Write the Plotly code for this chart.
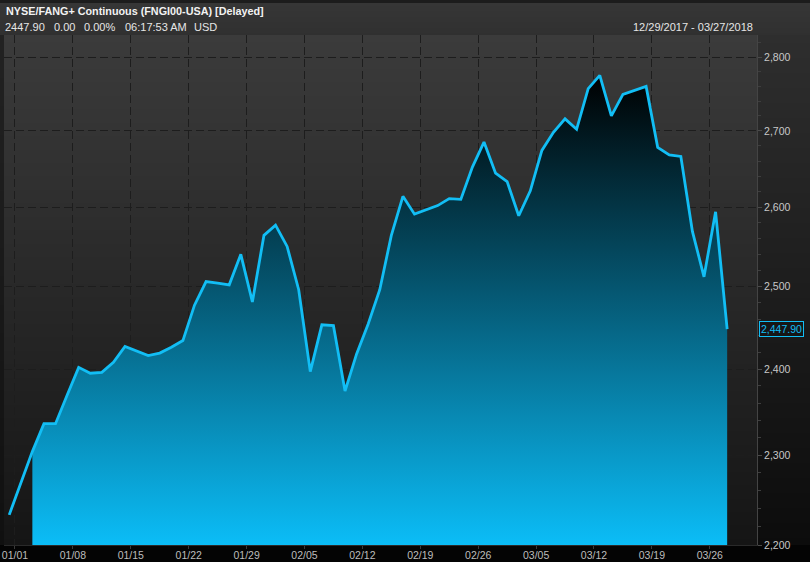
import base64
import struct
import zlib

import numpy as np
import plotly.graph_objects as go

# ---------------- data ----------------
dates = [
    "2017-12-29", "2018-01-02", "2018-01-03", "2018-01-04", "2018-01-05",
    "2018-01-08", "2018-01-09", "2018-01-10", "2018-01-11", "2018-01-12",
    "2018-01-16", "2018-01-17", "2018-01-18", "2018-01-19",
    "2018-01-22", "2018-01-23", "2018-01-24", "2018-01-25", "2018-01-26",
    "2018-01-29", "2018-01-30", "2018-01-31", "2018-02-01", "2018-02-02",
    "2018-02-05", "2018-02-06", "2018-02-07", "2018-02-08", "2018-02-09",
    "2018-02-12", "2018-02-13", "2018-02-14", "2018-02-15", "2018-02-16",
    "2018-02-20", "2018-02-21", "2018-02-22", "2018-02-23",
    "2018-02-26", "2018-02-27", "2018-02-28", "2018-03-01", "2018-03-02",
    "2018-03-05", "2018-03-06", "2018-03-07", "2018-03-08", "2018-03-09",
    "2018-03-12", "2018-03-13", "2018-03-14", "2018-03-15", "2018-03-16",
    "2018-03-19", "2018-03-20", "2018-03-21", "2018-03-22", "2018-03-23",
    "2018-03-26", "2018-03-27",
]
closes = [
    2233, 2304, 2336, 2336, 2369,
    2402, 2395, 2396, 2408, 2427,
    2416, 2419, 2426, 2434,
    2477, 2506, 2504, 2502, 2540,
    2481, 2564, 2577, 2550, 2496,
    2397, 2453, 2452, 2374, 2418,
    2454, 2496, 2564, 2614, 2591,
    2602, 2611, 2610, 2652,
    2685, 2644, 2633, 2589, 2621,
    2674, 2698, 2716, 2702, 2757,
    2775, 2720, 2749, 2754, 2760,
    2678, 2668, 2666, 2569, 2512,
    2594, 2447.90,
]
week_starts = [
    "2018-01-01", "2018-01-08", "2018-01-15", "2018-01-22", "2018-01-29",
    "2018-02-05", "2018-02-12", "2018-02-19", "2018-02-26", "2018-03-05",
    "2018-03-12", "2018-03-19", "2018-03-26",
]
y_major = [2200, 2300, 2400, 2500, 2600, 2700, 2800]
y_minor = [v for v in range(2200, 2840, 20) if v % 100 != 0]

last_value = closes[-1]
title_text = "NYSE/FANG+ Continuous (FNGI00-USA) [Delayed]"
quote_parts = ["2447.90", "0.00", "0.00%", "06:17:53 AM", "USD"]
range_text = "12/29/2017 - 03/27/2018"

# ---------------- geometry ----------------
W, H = 810, 562
PL, PR, PT, PB = 4, 757, 35, 545   # plot area in pixels

origin = dates[0]
x_idx = np.busday_count(origin, np.array(dates, dtype="datetime64[D]")).astype(float)
tick_pos = np.busday_count(origin, np.array(week_starts, dtype="datetime64[D]")) - 0.5
tick_txt = [d[5:7] + "/" + d[8:10] for d in week_starts]

px_per_day = 11.58
x0_px = 9.2
x_range = [(PL - x0_px) / px_per_day, (PR - x0_px) / px_per_day]
y_range = [np.log10(2200), np.log10(2831)]


# ---------------- background image (pure python PNG) ----------------
def lerp(c1, c2, t):
    t = min(max(t, 0.0), 1.0)
    return tuple(int(round(a + (b - a) * t)) for a, b in zip(c1, c2))


def make_bg():
    rows = []
    for y in range(H):
        if y < 3:
            row = bytes((28, 28, 28)) * W
        elif y < PT:
            c = lerp((54, 54, 54), (48, 48, 48), (y - 3) / (PT - 3))
            row = bytes(c) * W
        elif y < PB:
            t = (y - PT) / (PB - PT)
            c_left = lerp((34, 34, 34), (16, 16, 16), t)
            c_plot = lerp((59, 59, 59), (21, 21, 21), t)
            c_axis = lerp((46, 46, 46), (12, 12, 12), t)
            row = bytes(c_left) * PL + bytes(c_plot) * (PR - PL) + bytes(c_axis) * (W - PR)
        else:
            row = bytes((4, 4, 4)) * W
        rows.append(b"\x00" + row)
    raw = b"".join(rows)

    def chunk(tag, data):
        c = struct.pack(">I", len(data)) + tag + data
        return c + struct.pack(">I", zlib.crc32(tag + data) & 0xFFFFFFFF)

    png = b"\x89PNG\r\n\x1a\n"
    png += chunk(b"IHDR", struct.pack(">IIBBBBB", W, H, 8, 2, 0, 0, 0))
    png += chunk(b"IDAT", zlib.compress(raw, 9))
    png += chunk(b"IEND", b"")
    return "data:image/png;base64," + base64.b64encode(png).decode()


LINE = "#12bef5"
FILL_LOW = "#0bbdf7"

fig = go.Figure()

# baseline for the area
fig.add_trace(go.Scatter(
    x=[x_idx[1], x_idx[-1]], y=[2100, 2100], mode="lines",
    line=dict(width=0, color="rgba(0,0,0,0)"), hoverinfo="skip", showlegend=False,
))
# gradient area
fig.add_trace(go.Scatter(
    x=x_idx[1:], y=closes[1:], mode="lines", fill="tonexty",
    line=dict(width=0, color="rgba(0,0,0,0)"),
    fillgradient=dict(type="vertical",
                      colorscale=[[0, FILL_LOW], [1, "#000000"]],
                      start=2200, stop=max(closes)),
    hoverinfo="skip", showlegend=False,
))
# price line
fig.add_trace(go.Scatter(
    x=x_idx, y=closes, mode="lines",
    line=dict(width=2.8, color=LINE), showlegend=False,
))

GRID = "#1d1d1d"
fig.update_layout(
    width=W, height=H,
    margin=dict(l=0, r=0, t=0, b=0, autoexpand=False),
    paper_bgcolor="#000000",
    plot_bgcolor="rgba(0,0,0,0)",
    showlegend=False,
    font=dict(family="Liberation Sans, Arial, sans-serif", color="#c8c8c8", size=10),
    images=[dict(source=make_bg(), xref="paper", yref="paper", x=0, y=1,
                 sizex=1, sizey=1, sizing="stretch", xanchor="left",
                 yanchor="top", layer="below")],
    xaxis=dict(
        domain=[PL / W, PR / W], range=x_range, fixedrange=True, automargin=False,
        tickmode="array", tickvals=tick_pos, ticktext=tick_txt,
        showgrid=True, gridcolor=GRID, gridwidth=1, griddash="8px,4px",
        zeroline=False, showline=True, linecolor="#2a2a2a", linewidth=1,
        ticks="outside", ticklen=3, tickcolor="#3a3a3a", ticklabelstandoff=-3,
        tickfont=dict(size=10.5, color="#bdbdbd"),
    ),
    yaxis=dict(
        domain=[(H - PB) / H, (H - PT) / H], type="log", range=y_range,
        side="right", fixedrange=True, automargin=False,
        tickmode="array", tickvals=y_major, tickformat=",d",
        showgrid=True, gridcolor=GRID, gridwidth=1, griddash="8px,4px",
        zeroline=False, showline=True, linecolor="#444444", linewidth=1,
        ticks="outside", ticklen=4, tickcolor="#4a4a4a",
        tickfont=dict(size=10.5, color="#c8c8c8"),
        minor=dict(tickmode="array", tickvals=y_minor, ticks="outside",
                   ticklen=3, tickcolor="#3e3e3e", showgrid=False),
    ),
)

ann = []
ann.append(dict(text="<b>" + title_text + "</b>", xref="paper", yref="paper",
                x=4 / W, y=1 - 11 / H, xanchor="left", yanchor="middle",
                showarrow=False, font=dict(size=10.8, color="#f2f2f2")))
quote_x = [3, 52, 82, 123, 192]
for txt, qx in zip(quote_parts, quote_x):
    ann.append(dict(text=txt, xref="paper", yref="paper", x=qx / W, y=1 - 27 / H,
                    xanchor="left", yanchor="middle", showarrow=False,
                    font=dict(size=11, color="#e6e6e6")))
ann.append(dict(text=range_text, xref="paper", yref="paper", x=755 / W, y=1 - 27 / H,
                xanchor="right", yanchor="middle", showarrow=False,
                font=dict(size=11, color="#e6e6e6")))
ann.append(dict(text=f"{last_value:,.2f}", xref="paper", yref="y",
                x=759 / W, y=np.log10(last_value), xanchor="left", yanchor="middle",
                showarrow=False, font=dict(size=10.5, color=LINE),
                bordercolor=LINE, borderwidth=1, borderpad=1, bgcolor="#161616"))
fig.update_layout(annotations=ann)

fig.write_html(
    "out.html",
    config={"displayModeBar": False, "responsive": False},
    post_script="document.body.style.margin='0';document.body.style.overflow='hidden';",
)
